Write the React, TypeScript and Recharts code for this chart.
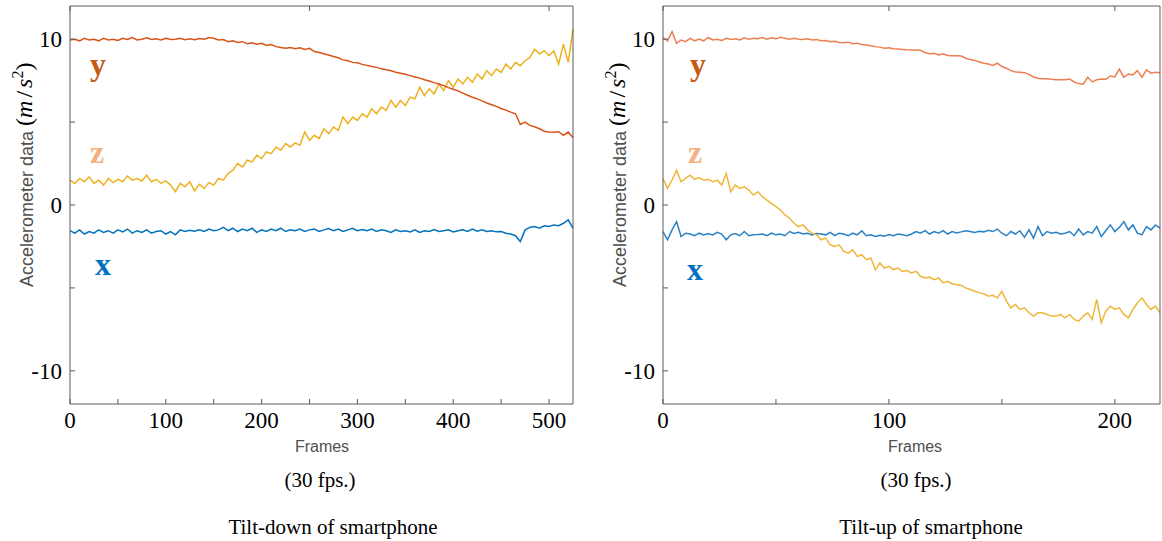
import React from 'react';
import { LineChart, Line, XAxis, YAxis } from 'recharts';

// ---------- Left panel: Tilt-down ----------
const leftFrames = [0,5,10,15,20,25,30,35,40,45,50,55,60,65,70,75,80,85,90,95,100,105,110,115,120,125,130,135,140,145,150,155,160,165,170,175,180,185,190,195,200,205,210,215,220,225,230,235,240,245,250,255,260,265,270,275,280,285,290,295,300,305,310,315,320,325,330,335,340,345,350,355,360,365,370,375,380,385,390,395,400,405,410,415,420,425,430,435,440,445,450,455,460,465,470,475,480,485,490,495,500,505,510,515,520,525];
const leftY = [9.95,10.0,9.9,10.05,9.95,10.0,9.9,10.05,9.95,10.0,9.92,10.05,9.98,10.1,9.95,10.0,10.08,9.98,10.02,9.95,10.05,9.98,10.0,10.06,9.97,10.02,9.96,10.04,10.0,10.1,10.05,9.95,9.98,9.85,9.9,9.8,9.85,9.72,9.78,9.7,9.75,9.62,9.68,9.55,9.5,9.45,9.5,9.42,9.48,9.38,9.45,9.25,9.2,9.12,9.05,8.95,8.88,8.75,8.7,8.6,8.58,8.48,8.42,8.35,8.3,8.22,8.15,8.1,8.0,7.95,7.88,7.8,7.72,7.65,7.55,7.48,7.38,7.3,7.2,7.08,6.98,6.88,6.75,6.62,6.5,6.4,6.28,6.15,6.05,5.95,5.82,5.72,5.6,5.5,4.85,5.0,4.8,4.72,4.6,4.45,4.4,4.38,4.42,4.2,4.4,4.05];
const leftZ = [1.5,1.3,1.6,1.4,1.7,1.3,1.5,1.2,1.6,1.35,1.55,1.4,1.75,1.5,1.6,1.45,1.8,1.4,1.55,1.3,1.45,1.2,0.8,1.3,1.1,1.4,0.85,1.25,1.0,1.35,1.2,1.6,1.5,1.9,2.1,2.5,2.3,2.7,2.6,3.0,2.8,3.2,3.1,3.5,3.3,3.7,3.5,3.75,3.6,4.4,3.9,4.2,4.0,4.6,4.3,4.7,4.5,5.3,4.9,5.3,5.1,5.5,5.3,5.8,5.5,5.9,5.7,6.3,5.9,6.3,6.0,6.5,6.4,7.1,6.6,7.0,6.7,7.3,6.9,7.5,7.1,7.6,7.3,7.7,7.4,7.9,7.6,8.1,7.8,8.2,8.0,8.5,8.2,8.6,8.4,8.7,8.9,9.4,9.1,9.3,9.0,9.3,8.5,9.7,8.6,10.6];
const leftX = [-1.55,-1.7,-1.5,-1.75,-1.6,-1.7,-1.5,-1.65,-1.55,-1.7,-1.5,-1.62,-1.45,-1.7,-1.55,-1.65,-1.5,-1.7,-1.6,-1.55,-1.75,-1.6,-1.8,-1.5,-1.6,-1.52,-1.58,-1.5,-1.6,-1.45,-1.55,-1.5,-1.35,-1.55,-1.4,-1.6,-1.45,-1.55,-1.4,-1.65,-1.5,-1.6,-1.45,-1.55,-1.4,-1.6,-1.5,-1.55,-1.45,-1.6,-1.5,-1.45,-1.6,-1.5,-1.42,-1.55,-1.45,-1.6,-1.5,-1.4,-1.55,-1.48,-1.55,-1.45,-1.6,-1.5,-1.55,-1.65,-1.5,-1.6,-1.55,-1.62,-1.5,-1.65,-1.55,-1.6,-1.48,-1.6,-1.55,-1.5,-1.62,-1.55,-1.5,-1.6,-1.45,-1.58,-1.5,-1.6,-1.55,-1.62,-1.6,-1.7,-1.75,-1.85,-2.2,-1.5,-1.35,-1.3,-1.4,-1.25,-1.3,-1.2,-1.25,-1.1,-0.9,-1.4];
const leftTicks = [0,50,100,150,200,250,300,350,400,450,500];

// ---------- Right panel: Tilt-up ----------
const rightFrames = [0,2,4,6,8,10,12,14,16,18,20,22,24,26,28,30,32,34,36,38,40,42,44,46,48,50,52,54,56,58,60,62,64,66,68,70,72,74,76,78,80,82,84,86,88,90,92,94,96,98,100,102,104,106,108,110,112,114,116,118,120,122,124,126,128,130,132,134,136,138,140,142,144,146,148,150,152,154,156,158,160,162,164,166,168,170,172,174,176,178,180,182,184,186,188,190,192,194,196,198,200,202,204,206,208,210,212,214,216,218,220];
const rightY = [10.1,9.9,10.45,9.75,9.95,9.85,10.05,9.9,10.0,9.9,10.1,9.95,10.0,9.92,10.05,9.98,10.02,9.95,10.08,10.0,10.05,10.02,10.1,10.0,10.08,10.02,10.12,10.05,10.0,10.05,10.0,9.98,10.02,9.95,9.98,9.9,9.92,9.85,9.88,9.8,9.78,9.82,9.72,9.76,9.68,9.65,9.6,9.55,9.52,9.45,9.48,9.42,9.4,9.38,9.36,9.35,9.35,9.33,9.2,9.12,9.15,9.05,9.12,9.02,9.0,9.0,8.98,8.85,8.78,8.72,8.62,8.55,8.5,8.42,8.55,8.35,8.25,8.1,8.02,8.0,7.98,7.88,7.72,7.65,7.62,7.62,7.58,7.55,7.55,7.55,7.6,7.42,7.32,7.28,7.7,7.42,7.55,7.6,7.58,7.78,7.72,8.2,7.7,7.9,7.85,8.1,7.7,8.15,7.95,8.0,7.98];
const rightZ = [1.6,1.0,1.5,2.1,1.4,1.6,1.8,1.55,1.65,1.5,1.55,1.4,1.5,1.2,1.9,0.8,1.2,1.0,1.1,0.9,0.6,0.8,0.5,0.3,0.1,-0.1,-0.3,-0.6,-0.8,-1.1,-1.3,-1.2,-1.5,-1.7,-1.8,-2.1,-2.0,-2.4,-2.5,-2.4,-2.8,-2.9,-2.7,-3.1,-3.0,-3.3,-3.2,-3.9,-3.5,-3.8,-3.7,-3.9,-3.8,-4.0,-3.95,-4.1,-4.0,-4.3,-4.4,-4.35,-4.5,-4.4,-4.7,-4.6,-4.75,-4.8,-4.85,-5.0,-5.1,-5.2,-5.3,-5.35,-5.5,-5.45,-5.6,-5.2,-5.8,-6.2,-6.0,-6.3,-6.2,-6.5,-6.7,-6.5,-6.5,-6.6,-6.7,-6.7,-6.6,-6.8,-6.6,-6.9,-7.0,-6.7,-6.5,-6.9,-5.7,-7.1,-6.4,-6.1,-6.3,-6.2,-6.6,-6.8,-6.3,-5.9,-5.6,-6.0,-6.3,-6.1,-6.5];
const rightX = [-1.6,-2.1,-1.5,-1.0,-1.9,-1.7,-1.75,-1.85,-1.7,-1.8,-1.72,-1.8,-1.65,-1.75,-2.1,-1.8,-1.72,-1.85,-1.6,-1.85,-1.8,-1.78,-1.75,-1.85,-1.7,-1.8,-1.75,-1.85,-1.6,-1.72,-1.65,-1.75,-1.7,-1.8,-1.72,-1.75,-1.8,-1.65,-1.85,-1.7,-1.75,-1.85,-1.7,-1.8,-1.55,-1.85,-1.8,-1.9,-1.82,-1.88,-1.78,-1.85,-1.75,-1.8,-1.85,-1.75,-1.6,-1.7,-1.55,-1.75,-1.6,-1.7,-1.55,-1.75,-1.6,-1.68,-1.62,-1.55,-1.6,-1.65,-1.58,-1.62,-1.52,-1.6,-1.45,-1.7,-1.85,-1.6,-1.75,-1.55,-1.95,-1.5,-2.0,-1.3,-1.85,-1.6,-1.7,-1.65,-1.75,-1.7,-1.6,-1.85,-1.45,-1.8,-1.6,-1.7,-1.3,-1.9,-1.55,-1.2,-1.6,-1.35,-1.0,-1.5,-1.2,-1.7,-1.8,-1.3,-1.5,-1.2,-1.4];
const rightTicks = [0,50,100,150,200];

const yTicks = [-10,-5,0,5,10];

const leftData = leftFrames.map((f, i) => ({ f, y: leftY[i], z: leftZ[i], x: leftX[i] }));
const rightData = rightFrames.map((f, i) => ({ f, y: rightY[i], z: rightZ[i], x: rightX[i] }));

const AX = '#5a5a5a';
const tickFont = { fontFamily: 'Liberation Serif', fontSize: 23, fill: '#000' };

type PanelProps = {
  left: number;
  width: number;
  data: any[];
  xMax: number;
  xTicks: number[];
  rightW: number;
  colors: { y: string; z: string; x: string };
};

function Panel({ left, width, data, xMax, xTicks, rightW, colors }: PanelProps) {
  return (
    <div style={{ position: 'absolute', left, top: 0 }}>
      <LineChart width={width} height={460} data={data} margin={{ top: 0, right: 0, bottom: 0, left: 0 }}>
        <XAxis
          dataKey="f"
          type="number"
          domain={[0, xMax]}
          ticks={xTicks}
          interval={0}
          height={56}
          tickSize={-5}
          tickMargin={13}
          stroke={AX}
          axisLine={{ stroke: AX }}
          tickLine={{ stroke: AX }}
          tick={tickFont}
          tickFormatter={(v: number) => (v % 100 === 0 ? String(v) : '')}
        />
        <XAxis
          xAxisId="top"
          orientation="top"
          type="number"
          domain={[0, xMax]}
          ticks={xTicks}
          interval={0}
          height={6}
          tickSize={-5}
          axisLine={{ stroke: AX }}
          tickLine={{ stroke: AX }}
          tickFormatter={() => ''}
        />
        <YAxis
          type="number"
          domain={[-12, 12]}
          ticks={yTicks}
          interval={0}
          width={70}
          tickSize={-5}
          tickMargin={13}
          axisLine={{ stroke: AX }}
          tickLine={{ stroke: AX }}
          tick={tickFont}
          tickFormatter={(v: number) => (v % 10 === 0 ? String(v) : '')}
        />
        <YAxis
          yAxisId="r"
          orientation="right"
          type="number"
          domain={[-12, 12]}
          ticks={yTicks}
          interval={0}
          width={rightW}
          tickSize={-5}
          axisLine={{ stroke: AX }}
          tickLine={{ stroke: AX }}
          tickFormatter={() => ''}
        />
        <Line type="linear" dataKey="x" stroke={colors.x} strokeWidth={1.5} dot={false} isAnimationActive={false} />
        <Line type="linear" dataKey="z" stroke={colors.z} strokeWidth={1.5} dot={false} isAnimationActive={false} />
        <Line type="linear" dataKey="y" stroke={colors.y} strokeWidth={1.5} dot={false} isAnimationActive={false} />
      </LineChart>
    </div>
  );
}

function YLabel({ x }: { x: number }) {
  const m = { fontFamily: 'Liberation Serif', fontSize: 24, fill: '#000' };
  return (
    <text transform={`translate(${x},287) rotate(-90)`} fontFamily="Liberation Sans" fontSize={18} fill="#505050">
      Accelerometer data
      <tspan dx={5} dy={-1} {...m}>(</tspan>
      <tspan {...m} fontStyle="italic">m</tspan>
      <tspan dx={3} {...m}>/</tspan>
      <tspan dx={3} {...m} fontStyle="italic">s</tspan>
      <tspan dy={-9} fontFamily="Liberation Serif" fontSize={16} fill="#000">2</tspan>
      <tspan dy={9} {...m}>)</tspan>
    </text>
  );
}

export default function App() {
  const serif = 'Liberation Serif';
  return (
    <div style={{ position: 'absolute', left: 0, top: 0, width: 1162, height: 541, background: '#fff', overflow: 'hidden' }}>
      <Panel left={0} width={600} data={leftData} xMax={525} xTicks={leftTicks} rightW={27}
        colors={{ y: '#D95319', z: '#EDB120', x: '#0072BD' }} />
      <Panel left={593} width={569} data={rightData} xMax={220} xTicks={rightTicks} rightW={2}
        colors={{ y: '#EC7F52', z: '#EFB73A', x: '#2A82C6' }} />
      <svg width={1162} height={541} style={{ position: 'absolute', left: 0, top: 0, pointerEvents: 'none' }}>
        <YLabel x={33} />
        <YLabel x={626} />
        <text x={90} y={75} fill="#C55A11" fontSize={32} fontWeight="bold" fontFamily={serif}>y</text>
        <text x={90} y={163} fill="#F4B183" fontSize={32} fontWeight="bold" fontFamily={serif}>z</text>
        <text x={95} y={275} fill="#0070C0" fontSize={32} fontWeight="bold" fontFamily={serif}>x</text>
        <text x={690} y={75} fill="#C55A11" fontSize={32} fontWeight="bold" fontFamily={serif}>y</text>
        <text x={688} y={163} fill="#F4B183" fontSize={32} fontWeight="bold" fontFamily={serif}>z</text>
        <text x={687} y={280} fill="#0070C0" fontSize={32} fontWeight="bold" fontFamily={serif}>x</text>
        <text x={322} y={452} textAnchor="middle" fontFamily="Liberation Sans" fontSize={16} fill="#505050">Frames</text>
        <text x={915} y={452} textAnchor="middle" fontFamily="Liberation Sans" fontSize={16} fill="#505050">Frames</text>
        <text x={320} y={487} textAnchor="middle" fontFamily={serif} fontSize={21} fill="#000">(30 fps.)</text>
        <text x={916} y={487} textAnchor="middle" fontFamily={serif} fontSize={21} fill="#000">(30 fps.)</text>
        <text x={333} y={534} textAnchor="middle" fontFamily={serif} fontSize={21} fill="#000">Tilt-down of smartphone</text>
        <text x={931} y={534} textAnchor="middle" fontFamily={serif} fontSize={21} fill="#000">Tilt-up of smartphone</text>
      </svg>
    </div>
  );
}
